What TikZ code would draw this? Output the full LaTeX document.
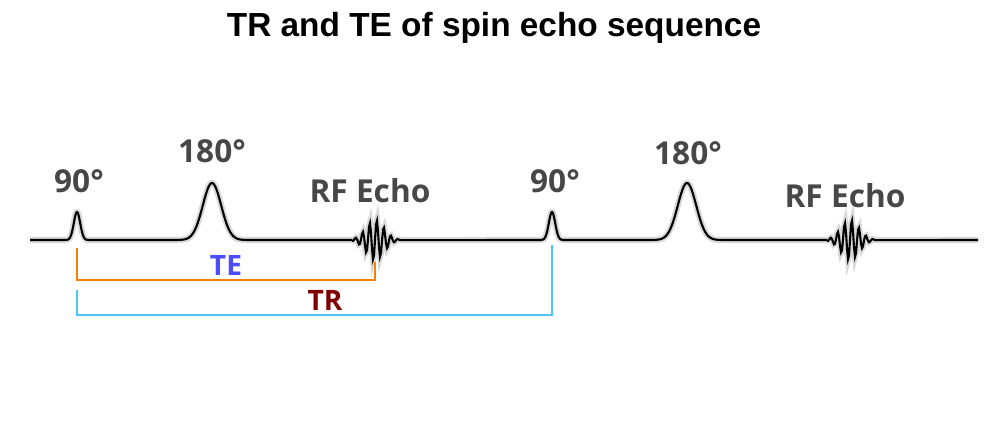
\documentclass[tikz,border=0pt]{standalone}
\usepackage{fontspec}
\setmainfont{Liberation Sans}
\newfontfamily\labelfont{Open Sans}
\tikzset{
  pulselabel/.style={font=\labelfont\bfseries\fontsize{18}{18}\selectfont, text=black!72},
  wave/.style={line width=1.2pt, black},
  glow/.style={line width=3.5pt, black!15},
  bracket/.style={line width=1.6pt},
}
\newcommand{\seqpath}{%
  (30,240) -- (62,240)
  plot[domain=62:92, samples=40] (\x, {240-28*exp(-((\x-77)/4.5)^2)})
  -- (172,240)
  plot[domain=172:252, samples=60] (\x, {240-57*exp(-((\x-212)/13)^2)})
  -- (352,240)
  plot[domain=352:400, samples=49] (\x, {240-20*sin(51*(\x-375))*exp(-((\x-375)/13)^2)})
  -- (537,240)
  plot[domain=537:567, samples=40] (\x, {240-28*exp(-((\x-552)/4.5)^2)})
  -- (647,240)
  plot[domain=647:727, samples=60] (\x, {240-57*exp(-((\x-687)/13)^2)})
  -- (827,240)
  plot[domain=827:875, samples=49] (\x, {240-20*sin(51*(\x-850))*exp(-((\x-850)/13)^2)})
  -- (978,240)}
\begin{document}
\begin{tikzpicture}[x=0.02cm, y=-0.02cm]
\useasboundingbox (0,0) rectangle (989,433);

\node (title) at (494,28) {\fontsize{19}{19}\selectfont\bfseries TR and TE of spin echo sequence};

% waveform
\draw [glow] \seqpath;
\draw [wave] \seqpath;

% pulse labels
\node [pulselabel] (p90a)  at (79,181)  {90°};
\node [pulselabel] (p180a) at (212,151) {180°};
\node [pulselabel] (echoa) at (370,191) {RF Echo};
\node [pulselabel] (p90b)  at (555,181) {90°};
\node [pulselabel] (p180b) at (688,153) {180°};
\node [pulselabel] (echob) at (845,196) {RF Echo};

% brackets
\coordinate (teA) at (77,248);
\coordinate (teB) at (375,262);
\coordinate (trA) at (77,290);
\coordinate (trB) at (552,245);
\draw [bracket, orange!85!brown] (teA) -- (77,280) -| (teB);
\draw [bracket, cyan!70!white] (trA) -- (77,315) -| (trB);

\node [font=\labelfont\bfseries\fontsize{16}{16}\selectfont, text=blue!70!white] (te) at (226,265) {TE};
\node [font=\labelfont\bfseries\fontsize{16}{16}\selectfont, text=red!50!black] (tr) at (325,300) {TR};
\end{tikzpicture}
\end{document}
